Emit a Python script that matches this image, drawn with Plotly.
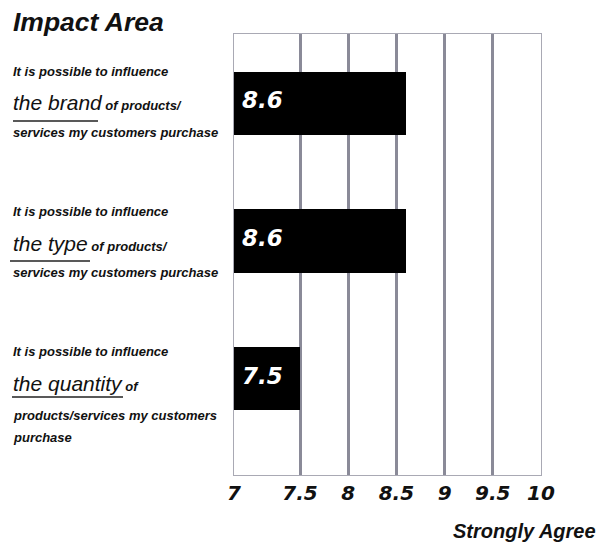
import plotly.graph_objects as go

# Survey data: mean agreement score for each impact area
categories = ["brand", "type", "quantity"]
scores = [8.6, 8.6, 7.5]

# Tick marks on the agreement scale (first interval is drawn wider)
axis_min = 6.815
tick_vals = [axis_min, 7.5, 8, 8.5, 9, 9.5, 10]
tick_text = ["7", "7.5", "8", "8.5", "9", "9.5", "10"]

# Left-hand statement text for each bar
lead_line = "It is possible to influence"
key_phrases = ["the brand", "the type", "the quantity"]
tails = [
    ["of products/", "services my customers purchase"],
    ["of products/", "services my customers purchase"],
    ["of", "products/services my customers", "purchase"],
]

W, H = 602, 547
L, R, T, B = 234, 61, 34, 72
PW, PH = W - L - R, H - T - B

SANS = "Liberation Sans, Arial, sans-serif"
WIDE = "DejaVu Sans, sans-serif"


def px_x(px):
    return (px - L) / PW


def px_y(py):
    return (H - B - py) / PH


fig = go.Figure(
    go.Bar(
        y=categories,
        x=scores,
        orientation="h",
        marker=dict(color="black", line=dict(width=0)),
        width=0.46,
        hoverinfo="skip",
    )
)

annotations = []
shapes = []

# Score labels inside the left end of each bar
for cat, val in zip(categories, scores):
    annotations.append(dict(
        text=f"{val:.1f}", xref="x", yref="y", x=axis_min, y=cat,
        xanchor="left", yanchor="middle", xshift=6, yshift=3, showarrow=False,
        font=dict(family=WIDE, size=23, color="white", weight="bold", style="italic"),
    ))

# Title
annotations.append(dict(
    text="Impact Area", xref="paper", yref="paper", x=px_x(11), y=px_y(22),
    xanchor="left", yanchor="middle", showarrow=False,
    font=dict(family=SANS, size=26.5, color="#111", weight="bold", style="italic"),
))

# Statement blocks: (lead line y, key line y, underline y, underline x-extent, tail line ys)
blocks = [
    (72, 103, 121, (13, 98), [132]),
    (211, 243, 261, (10, 90), [272]),
    (351, 383, 397, (12, 123), [415, 437]),
]

small = dict(family=SANS, size=13, color="#111", style="italic", weight="bold")
for i, (y_lead, y_key, y_ul, (ux0, ux1), tail_ys) in enumerate(blocks):
    annotations.append(dict(
        text=lead_line, xref="paper", yref="paper", x=px_x(11), y=px_y(y_lead),
        xanchor="left", yanchor="middle", showarrow=False, font=small,
    ))
    annotations.append(dict(
        text=f'<span style="font-size:21px;font-weight:normal">{key_phrases[i]}</span> {tails[i][0]}',
        xref="paper", yref="paper", x=px_x(11), y=px_y(y_key),
        xanchor="left", yanchor="middle", showarrow=False, font=small,
    ))
    for txt, yy in zip(tails[i][1:], tail_ys):
        annotations.append(dict(
            text=txt, xref="paper", yref="paper", x=px_x(11), y=px_y(yy),
            xanchor="left", yanchor="middle", showarrow=False, font=small,
        ))
    shapes.append(dict(
        type="line", xref="paper", yref="paper",
        x0=px_x(ux0), x1=px_x(ux1), y0=px_y(y_ul), y1=px_y(y_ul),
        line=dict(color="#222", width=1.5),
    ))

# Axis caption
annotations.append(dict(
    text="Strongly Agree", xref="paper", yref="paper", x=px_x(598), y=px_y(531),
    xanchor="right", yanchor="middle", showarrow=False,
    font=dict(family=SANS, size=20, color="#111", style="italic", weight="bold"),
))

fig.update_layout(
    width=W, height=H,
    margin=dict(l=L, r=R, t=T, b=B),
    paper_bgcolor="white", plot_bgcolor="white",
    showlegend=False,
    bargap=0,
    annotations=annotations,
    shapes=shapes,
    xaxis=dict(
        range=[axis_min, 10],
        tickvals=tick_vals, ticktext=tick_text,
        showgrid=True, gridcolor="#8a8a98", gridwidth=2.5,
        showline=True, linecolor="#a9a9b4", linewidth=1, mirror=True,
        zeroline=False, ticks="",
        tickfont=dict(family=WIDE, size=20, color="#111", weight="bold", style="italic"),
        fixedrange=True,
    ),
    yaxis=dict(
        categoryorder="array", categoryarray=categories,
        range=[2.7, -0.505],
        showticklabels=False, showgrid=False, zeroline=False,
        showline=True, linecolor="#a9a9b4", linewidth=1, mirror=True,
        ticks="", fixedrange=True,
    ),
)

fig.write_html("out.html")
